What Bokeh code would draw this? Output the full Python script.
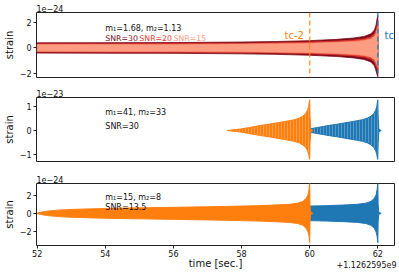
import numpy as np
from bokeh.plotting import figure
from bokeh.layouts import column
from bokeh.models import Range1d, FixedTicker, Label, Span, Title
from bokeh.embed import file_html
from bokeh.resources import INLINE

# ---------------- data ----------------
X_TICKS = [52, 54, 56, 58, 60, 62]
OFFSET_TEXT = "+1.1262595e9"
TC = 62.0          # coalescence time (relative)
TC_SHIFT = 2.0     # orange copy is placed at tc-2

# panel 1 : BNS, envelope for three SNRs (units of 1e-24)
p1_t = [52.00, 54.00, 56.00, 58.00, 59.00, 60.00, 60.80, 61.30, 61.60, 61.80, 61.90, 61.95, 61.98, 62.00, 62.01]
snr30_up = [0.40, 0.41, 0.42, 0.46, 0.50, 0.57, 0.67, 0.78, 0.90, 1.10, 1.40, 1.80, 2.30, 2.55, 0.00]
snr30_lo = [-0.40, -0.41, -0.42, -0.46, -0.50, -0.57, -0.67, -0.78, -0.90, -1.10, -1.40, -1.80, -2.10, -2.25, 0.00]
snr20_up = [0.32, 0.33, 0.34, 0.37, 0.40, 0.46, 0.54, 0.62, 0.72, 0.88, 1.12, 1.44, 1.84, 2.04, 0.00]
snr20_lo = [-0.32, -0.33, -0.34, -0.37, -0.40, -0.46, -0.54, -0.62, -0.72, -0.88, -1.12, -1.44, -1.68, -1.80, 0.00]
snr15_up = [0.26, 0.27, 0.27, 0.30, 0.33, 0.37, 0.44, 0.51, 0.59, 0.72, 0.91, 1.17, 1.50, 1.66, 0.00]
snr15_lo = [-0.26, -0.27, -0.27, -0.30, -0.33, -0.37, -0.44, -0.51, -0.59, -0.72, -0.91, -1.17, -1.37, -1.46, 0.00]

# panel 2 : m1=41, m2=33, merger at tc-2 (units of 1e-23)
p2_t = [57.58, 57.70, 57.85, 58.00, 58.20, 58.40, 58.60, 58.80, 59.00, 59.20, 59.40, 59.55,
        59.70, 59.80, 59.88, 59.94, 59.97, 59.99, 60.00, 60.01, 60.03, 60.10]
p2_up = [0.00, 0.02, 0.04, 0.07, 0.12, 0.17, 0.22, 0.26, 0.31, 0.36, 0.41, 0.45,
         0.52, 0.60, 0.70, 0.85, 1.00, 1.20, 1.28, 0.60, 0.05, 0.00]
p2_lo = [0.00, -0.02, -0.04, -0.07, -0.12, -0.17, -0.22, -0.26, -0.31, -0.36, -0.41, -0.45,
         -0.52, -0.60, -0.70, -0.85, -1.00, -1.15, -1.20, -0.55, -0.05, 0.00]

# panel 3 : m1=15, m2=8, merger at tc-2 (units of 1e-24)
p3_t = [52.00, 52.10, 52.30, 52.60, 53.00, 53.50, 54.00, 54.50, 55.00, 55.50, 56.00, 56.50, 57.00,
        57.50, 58.00, 58.50, 59.00, 59.40, 59.65, 59.80, 59.90, 59.95, 59.98, 60.00, 60.01, 60.03, 60.10]
p3_up = [0.02, 0.12, 0.25, 0.36, 0.44, 0.50, 0.55, 0.59, 0.62, 0.65, 0.68, 0.71, 0.74,
         0.78, 0.82, 0.87, 0.94, 1.02, 1.15, 1.35, 1.70, 2.10, 2.70, 3.40, 1.00, 0.10, 0.00]
p3_lo = [-0.02, -0.12, -0.25, -0.36, -0.44, -0.50, -0.55, -0.59, -0.62, -0.65, -0.68, -0.71, -0.74,
         -0.78, -0.82, -0.87, -0.94, -1.02, -1.15, -1.35, -1.70, -2.10, -2.60, -3.30, -0.90, -0.10, 0.00]

P1_TEXT = "m\u2081=1.68, m\u2082=1.13"
P2_TEXT = ["m\u2081=41, m\u2082=33", "SNR=30"]
P3_TEXT = ["m\u2081=15, m\u2082=8", "SNR=13.5"]
SNR_LABELS = ["SNR=30", "SNR=20", "SNR=15"]
SCALE_LABELS = ["1e\u221224", "1e\u221223", "1e\u221224"]

# ---------------- style ----------------
ORANGE = "#ff7f0e"
BLUE = "#1f77b4"
RED_DARK = "#7d0a1c"
RED_MID = "#e33b2e"
RED_LIGHT = "#fc9c80"
FONT = "DejaVu Sans"
TXT = "#111111"

W = 398
BL, BR = 32, 4
X_RANGE = Range1d(51.98, 62.49)


def fmt(v):
    return f"{v:g}".replace("-", "\u2212")


def make_fig(h, top, bottom, yr, yticks, scale_label, show_x=False):
    title = Title(text=scale_label, align="left", offset=0, standoff=0,
                  vertical_align="middle",
                  text_font=FONT, text_font_size="8px", text_font_style="normal",
                  text_color=TXT)
    p = figure(width=W, height=h, x_range=X_RANGE, y_range=Range1d(*yr),
               output_backend="svg", toolbar_location=None, title=title,
               min_border_left=BL, min_border_right=BR,
               min_border_top=top, min_border_bottom=bottom)
    p.xgrid.visible = False
    p.ygrid.visible = False
    p.outline_line_color = "#222222"
    p.outline_line_width = 1
    for ax in (p.yaxis[0], p.xaxis[0]):
        ax.axis_line_color = None
        ax.major_tick_line_color = "#222222"
        ax.major_tick_in = 0
        ax.major_tick_out = 3
        ax.minor_tick_line_color = None
        ax.major_label_text_font = FONT
        ax.major_label_text_font_size = "8px"
        ax.major_label_text_color = TXT
        ax.axis_label_text_font = FONT
        ax.axis_label_text_font_size = "10px"
        ax.axis_label_text_font_style = "normal"
        ax.axis_label_text_color = TXT
    p.yaxis.major_label_standoff = 2
    p.yaxis.axis_label = "strain"
    p.yaxis.axis_label_standoff = 2
    p.yaxis.ticker = FixedTicker(ticks=yticks)
    p.yaxis.major_label_overrides = {v: fmt(v) for v in yticks}
    if show_x:
        p.xaxis.ticker = FixedTicker(ticks=X_TICKS)
        p.xaxis.major_label_overrides = {v: fmt(v) for v in X_TICKS}
        p.xaxis.major_label_standoff = 1
        p.xaxis.axis_label = "time [sec.]"
        p.xaxis.axis_label_standoff = -2
    else:
        p.xaxis.visible = False
    return p


def band(p, t, up, lo, color, lw=1.0, **kw):
    xs = list(t) + list(t)[::-1]
    ys = list(up) + list(lo)[::-1]
    p.patch(xs, ys, fill_color=color, line_color=color, line_width=lw, **kw)


def text(p, x, y, s, color=TXT, size="8px", align="left"):
    p.add_layout(Label(x=x, y=y, text=s, text_font=FONT, text_font_size=size,
                       text_color=color, text_align=align, text_baseline="alphabetic"))


# ---------------- panel 1 ----------------
p1 = make_fig(85, 12, 8, (-2.31, 2.77), [-2, 0, 2], SCALE_LABELS[0])
band(p1, p1_t, snr30_up, snr30_lo, RED_DARK, 0.8)
band(p1, p1_t, snr20_up, snr20_lo, RED_MID, 0.6)
band(p1, p1_t, snr15_up, snr15_lo, RED_LIGHT, 0.6)
p1.add_layout(Span(location=TC - TC_SHIFT, dimension="height", line_color=ORANGE,
                   line_dash="5 3", line_width=1.5, line_alpha=0.75))
p1.add_layout(Span(location=TC, dimension="height", line_color=BLUE,
                   line_dash="5 3", line_width=1.5, line_alpha=0.75))
text(p1, 59.83, 0.95, "tc-2", ORANGE, "10px", "right")
text(p1, 62.2, 0.95, "tc", BLUE, "10px", "left")
text(p1, 54.0, 1.5, P1_TEXT)
for x0, s, c in zip([54.0, 55.0, 56.0], SNR_LABELS, [RED_DARK, RED_MID, RED_LIGHT]):
    text(p1, x0, 0.73, s, c, "7.8px")

# ---------------- panel 2 ----------------
p2 = make_fig(86, 12, 10, (-1.29, 1.375), [-1, 0, 1], SCALE_LABELS[1])
hatch = dict(hatch_pattern="vertical_line", hatch_color="white", hatch_alpha=0.25,
             hatch_scale=3, hatch_weight=1)
band(p2, [t + TC_SHIFT for t in p2_t], p2_up, p2_lo, BLUE, 1.0, **hatch)
band(p2, p2_t, p2_up, p2_lo, ORANGE, 1.0, **hatch)
text(p2, 54.0, 0.73, P2_TEXT[0])
text(p2, 54.0, 0.17, P2_TEXT[1])

# ---------------- panel 3 ----------------
p3 = make_fig(103, 12, 29, (-3.63, 3.37), [-2, 0, 2], SCALE_LABELS[2], show_x=True)
band(p3, [t + TC_SHIFT for t in p3_t], p3_up, p3_lo, BLUE, 1.0)
band(p3, p3_t, p3_up, p3_lo, ORANGE, 1.0)
text(p3, 54.0, 1.75, P3_TEXT[0])
text(p3, 54.0, 0.67, P3_TEXT[1])
p3.add_layout(Title(text=OFFSET_TEXT, align="right", offset=-2, standoff=-22,
                    vertical_align="top", text_font=FONT, text_font_size="8px",
                    text_font_style="normal", text_color=TXT), "below")

layout = column(p1, p2, p3, spacing=0)
open("out.html", "w").write(file_html(layout, INLINE))
